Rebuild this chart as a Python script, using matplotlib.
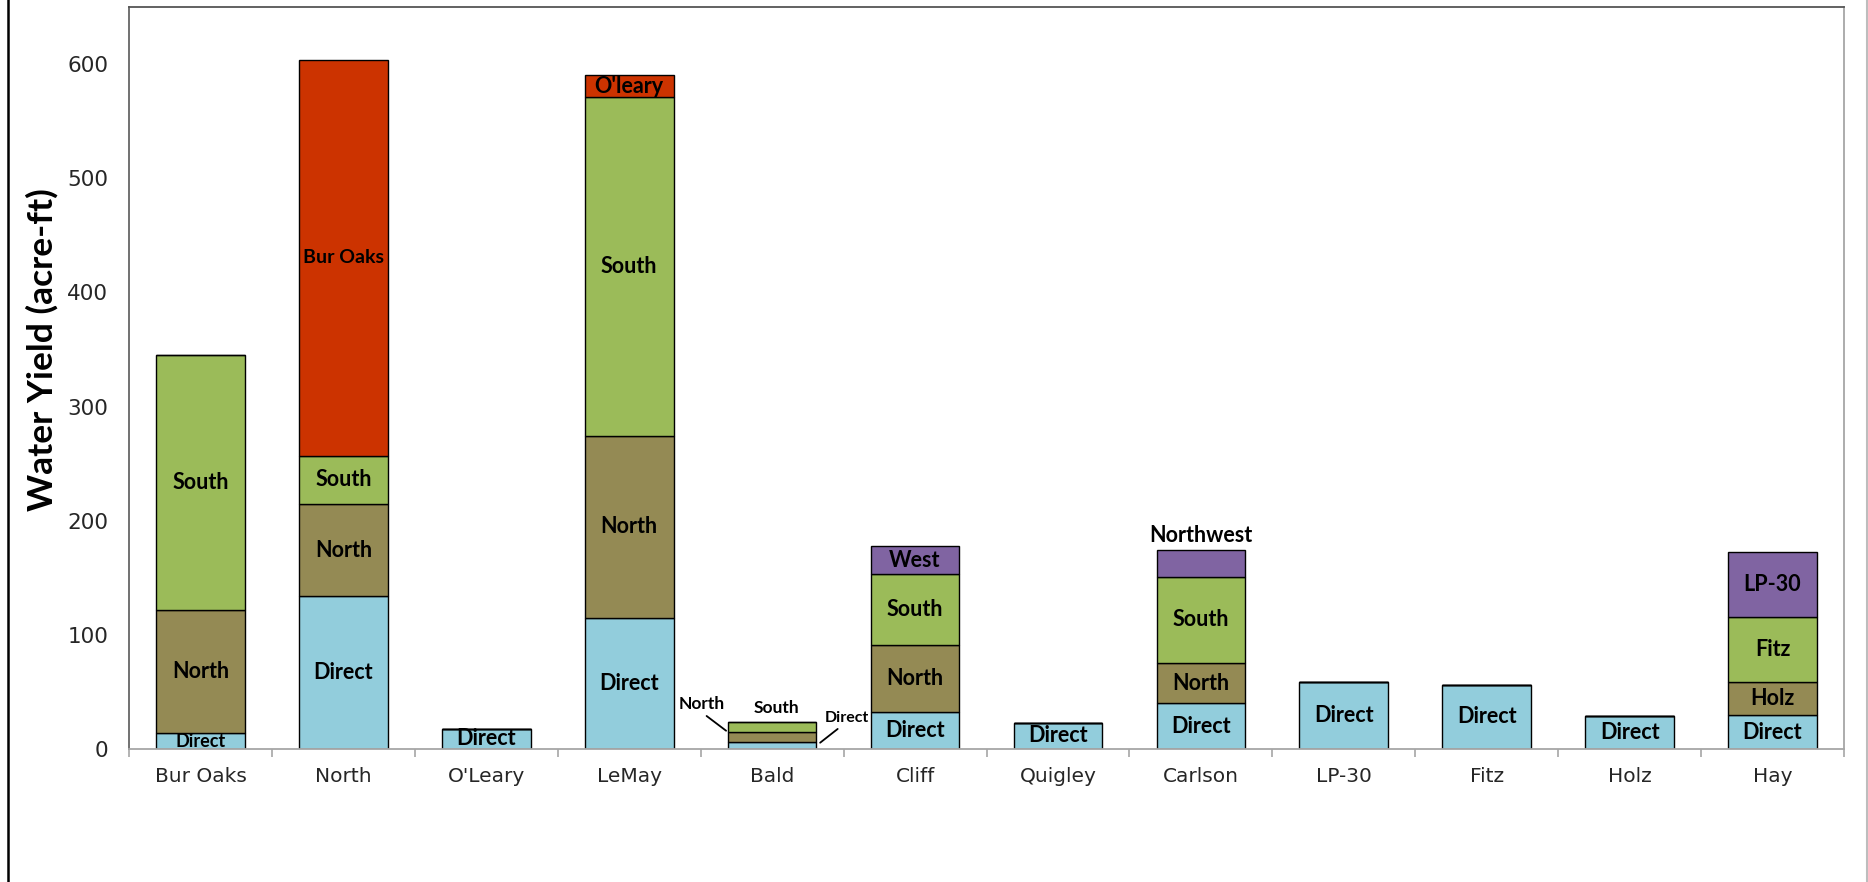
import matplotlib
matplotlib.use("Agg")
import matplotlib.pyplot as plt
from matplotlib.lines import Line2D
from matplotlib.ticker import FixedLocator

# ---- data ----
categories = ["Bur Oaks", "North", "O'Leary", "LeMay", "Bald", "Cliff",
              "Quigley", "Carlson", "LP-30", "Fitz", "Holz", "Hay"]

direct_vals = [13.6, 133.6, 17.7, 115.0, 6.4, 32.0, 23.0, 39.9, 58.4, 56.3, 29.0, 29.4]
layer2_vals = [108.4, 81.4, 0, 159.5, 8.7, 59.0, 0, 35.1, 0, 0, 0, 28.9]
layer3_vals = [223.0, 42.0, 0, 296.5, 8.2, 62.5, 0, 76.1, 0, 0, 0, 56.9]
layer4_vals = [0, 346.5, 0, 19.0, 0, 24.0, 0, 23.2, 0, 0, 0, 57.8]

direct_labels = ["Direct"] * 12
layer2_labels = ["North", "North", "", "North", "North", "North", "", "North", "", "", "", "Holz"]
layer3_labels = ["South", "South", "", "South", "South", "South", "", "South", "", "", "", "Fitz"]
layer4_labels = ["", "Bur Oaks", "", "O'leary", "", "West", "", "Northwest", "", "", "", "LP-30"]
layer4_kind = ["", "red", "", "red", "", "purple", "", "purple", "", "", "", "purple"]

yticks = [0, 100, 200, 300, 400, 500, 600]
ylabel = "Water Yield (acre-ft)"

# ---- style ----
C_DIRECT = "#92CDDC"
C_L2 = "#948A54"
C_L3 = "#9BBB59"
C_RED = "#CC3300"
C_PURPLE = "#8064A2"
LABEL_FONT = ["Lato", "DejaVu Sans"]

fig = plt.figure(figsize=(18.68, 8.82), dpi=100)
ax = fig.add_axes([129 / 1868, 133 / 882, 1715 / 1868, 742 / 882])

x = list(range(len(categories)))
w = 0.62
ekw = dict(edgecolor="black", linewidth=1.0)

b1 = direct_vals
b2 = [a + b for a, b in zip(b1, layer2_vals)]
b3 = [a + b for a, b in zip(b2, layer3_vals)]

ax.bar(x, direct_vals, w, color=C_DIRECT, **ekw)
ax.bar(x, layer2_vals, w, bottom=b1, color=C_L2, **ekw)
ax.bar(x, layer3_vals, w, bottom=b2, color=C_L3, **ekw)
c4 = [C_RED if k == "red" else C_PURPLE for k in layer4_kind]
ax.bar(x, layer4_vals, w, bottom=b3, color=c4, **ekw)

def lab(xi, y, s, size=15.5):
    ax.text(xi, y, s, ha="center", va="center", fontsize=size,
            fontweight="bold", family=LABEL_FONT, color="black")

for i in x:
    cat = categories[i]
    if cat == "Bald":
        continue
    sz = 13 if cat == "Bur Oaks" else 15.5
    lab(i, direct_vals[i] / 2, direct_labels[i], sz)
    if layer2_labels[i]:
        lab(i, b1[i] + layer2_vals[i] / 2, layer2_labels[i])
    if layer3_labels[i]:
        lab(i, b2[i] + layer3_vals[i] / 2, layer3_labels[i])
    if layer4_labels[i]:
        if layer4_labels[i] == "Northwest":
            lab(i, b3[i] + layer4_vals[i] + 13, layer4_labels[i])
        elif layer4_labels[i] == "Bur Oaks":
            lab(i, b3[i] + layer4_vals[i] / 2, layer4_labels[i], 14)
        else:
            lab(i, b3[i] + layer4_vals[i] / 2, layer4_labels[i])

# Bald external labels with leader lines
ib = categories.index("Bald")
ax.annotate(layer2_labels[ib], xy=(ib - 0.322, 16.0), xytext=(ib - 0.492, 39.1),
            ha="center", va="center", fontsize=12.5, fontweight="bold",
            family=LABEL_FONT,
            arrowprops=dict(arrowstyle="-", color="black", lw=1.3,
                            shrinkA=1, shrinkB=0, relpos=(0.5, 0.0)))
lab(ib + 0.028, 35.6, layer3_labels[ib], 12.5)
ax.annotate(direct_labels[ib], xy=(ib + 0.336, 5.5), xytext=(ib + 0.522, 26.9),
            ha="center", va="center", fontsize=11.5, fontweight="bold",
            family=LABEL_FONT,
            arrowprops=dict(arrowstyle="-", color="black", lw=1.3,
                            shrinkA=1, shrinkB=0, relpos=(0.4, 0.0)))

# axes
ax.set_xlim(-0.5, len(categories) - 0.5)
ax.set_ylim(0, 650)
ax.set_yticks(yticks)
ax.tick_params(axis="y", length=0, pad=15, labelsize=15.5, labelcolor="#262626")
ax.set_xticks(x)
ax.set_xticklabels(categories)
ax.xaxis.set_minor_locator(FixedLocator([i - 0.5 for i in range(len(categories) + 1)]))
ax.tick_params(axis="x", which="major", length=0, pad=13, labelsize=14.5,
               labelcolor="#262626")
ax.tick_params(axis="x", which="minor", length=6, width=1.2, color="#A6A6A6")
for lbl in ax.get_xticklabels() + ax.get_yticklabels():
    lbl.set_family("DejaVu Sans")

ax.spines["left"].set_color("#666666")
ax.spines["top"].set_color("#555555")
ax.spines["right"].set_color("#A6A6A6")
ax.spines["bottom"].set_color("#A6A6A6")
for s in ax.spines.values():
    s.set_linewidth(1.3)

fig.text(42 / 1868, 1 - 350 / 882, ylabel, rotation=90, ha="center", va="center",
         fontsize=25.5, fontweight="bold", family=LABEL_FONT)

# chart-area border lines
fig.add_artist(Line2D([7.5 / 1868, 7.5 / 1868], [0, 1], color="black", lw=1.8,
                      transform=fig.transFigure))
fig.add_artist(Line2D([1866.5 / 1868, 1866.5 / 1868], [0, 1], color="#BDBDBD", lw=1.5,
                      transform=fig.transFigure))

fig.savefig("out.png", dpi=100)
